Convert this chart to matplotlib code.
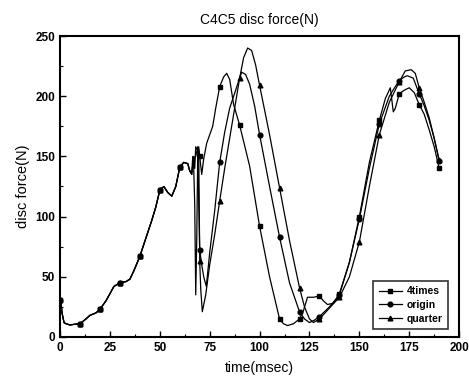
import matplotlib
matplotlib.use("Agg")
import matplotlib.pyplot as plt
import numpy as np
from matplotlib.ticker import MultipleLocator

plt.rcParams['font.family'] = ['Liberation Sans', 'DejaVu Sans']

# shared start (0 - 65 msec)
t_common = [0, 0.5, 1, 2, 3, 5, 7, 10, 13, 15, 18, 20, 23, 25, 27, 30, 33, 35, 37, 40,
            43, 46, 48, 50, 52, 54, 56, 58, 60, 62, 64, 65]
f_common = [31, 28, 20, 12, 11, 10, 10.5, 11, 15, 18, 20, 23, 30, 36, 42, 45, 46, 48, 55, 67,
            82, 97, 108, 122, 125, 120, 117, 125, 141, 145, 144, 138]

t_4times = [66, 66.5, 67, 67.5, 68, 68.5, 69, 69.5, 70, 71, 72, 73.5, 75, 76.5, 78, 80, 82, 83.5, 85,
            87, 90, 95, 100, 105, 110, 112, 114, 117, 120, 122, 124, 127, 130, 132, 134, 137, 140,
            145, 150, 155, 160, 163, 165.5, 167, 168, 170, 172.5, 175, 177.5, 180, 182.5, 185, 187.5, 190]
f_4times = [135, 150, 140, 110, 35, 80, 150, 158, 150, 135, 148, 161, 168, 175, 190, 208, 216, 219, 214,
            193, 176, 142, 92, 50, 15, 11, 9.5, 11, 15, 22, 33, 33, 34, 30, 27, 28, 36,
            62, 100, 145, 180, 198, 207, 187, 190, 202, 205, 207, 203, 193, 185, 172, 158, 140]

t_origin = [66, 67, 67.5, 68, 69, 70, 71, 72, 73.3, 75, 77.5, 80, 82.5, 85, 88, 91, 93, 95, 97.5, 100,
            105, 110, 115, 120, 122.5, 125, 127.5, 130, 135, 140, 145, 150, 155, 160, 165, 168,
            170, 172.5, 174, 177, 180, 182.5, 185, 187.5, 190]
f_origin = [135, 150, 140, 158, 155, 72, 60, 50, 42, 70, 105, 145, 170, 190, 205, 220, 218, 210, 192, 168,
            125, 83, 45, 21, 15, 12, 14, 17, 25, 35, 62, 98, 140, 177, 200, 208,
            213, 216, 217, 215, 202, 192, 180, 165, 146]

t_quarter = [66, 67, 68, 69, 69.5, 70, 70.5, 71.3, 73, 75, 77.5, 80, 82.5, 85, 87.5, 90, 92, 94, 96, 98,
             100, 105, 110, 115, 120, 122.5, 125, 127, 130, 135, 140, 145, 150, 155, 160, 165,
             170, 173, 176, 178, 180, 182.5, 185, 187.5, 190]
f_quarter = [137, 148, 150, 158, 155, 63, 40, 21, 35, 60, 85, 113, 140, 165, 190, 215, 232, 240, 238, 226,
             209, 168, 124, 80, 41, 25, 15, 12, 15, 24, 33, 50, 79, 125, 168, 195,
             212, 221, 222, 219, 207, 195, 182, 165, 147]

series = [
    ("4times", t_common + t_4times, f_common + f_4times, "s"),
    ("origin", t_common + t_origin, f_common + f_origin, "o"),
    ("quarter", t_common + t_quarter, f_common + f_quarter, "^"),
]

fig = plt.figure(figsize=(4.69, 3.81), dpi=100)
ax = fig.add_axes([0.128, 0.1155, 0.851, 0.79])

for name, t, f, mk in series:
    t = np.array(t, dtype=float)
    f = np.array(f, dtype=float)
    marks = [i for i, v in enumerate(t) if v % 10 == 0]
    ax.plot(t, f, color="black", lw=0.9, marker=mk, ms=3.4, markevery=marks, label=name)

ax.set_xlim(0, 200)
ax.set_ylim(0, 250)
ax.xaxis.set_major_locator(MultipleLocator(25))
ax.xaxis.set_minor_locator(MultipleLocator(12.5))
ax.yaxis.set_major_locator(MultipleLocator(50))
ax.yaxis.set_minor_locator(MultipleLocator(25))
ax.tick_params(which="both", direction="in", top=False, right=False, labelsize=8.5)
ax.tick_params(which="major", length=4, width=1)
ax.tick_params(which="minor", length=2.5, width=0.8)
for lab in ax.get_xticklabels() + ax.get_yticklabels():
    lab.set_fontweight("bold")
for sp in ax.spines.values():
    sp.set_linewidth(1.5)

ax.set_xlabel("time(msec)", fontsize=10, labelpad=5)
ax.set_ylabel("disc force(N)", fontsize=10.5)
ax.set_title("C4C5 disc force(N)", fontsize=10, pad=9)

leg = ax.legend(loc="lower right", prop={"weight": "bold", "size": 7.5}, frameon=True,
                fancybox=False, edgecolor="black", handlelength=2.2, borderpad=0.5,
                labelspacing=0.35, handletextpad=0.5, bbox_to_anchor=(0.985, 0.01))
leg.get_frame().set_linewidth(1.2)

fig.savefig("out.png", dpi=100)
